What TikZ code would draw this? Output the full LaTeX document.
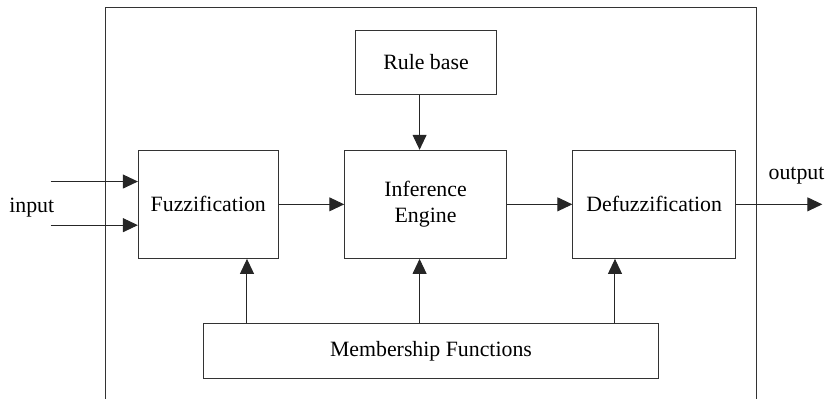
\documentclass[tikz,border=0pt]{standalone}
\usepackage{fontspec}
\setmainfont{Liberation Serif}
\usetikzlibrary{positioning}
\usetikzlibrary{calc}
\usetikzlibrary{arrows.meta}

\begin{document}
\begin{tikzpicture}[
        node distance= 27.5pt and 33pt,
        font=\fontsize{11}{12.8}\selectfont,
        box/.style={draw=black!80, line width=0.5pt, rectangle, minimum height=54.5pt, align=center, inner sep=0pt},
        arrow/.style={draw=black!85, line width=0.5pt, -{Triangle[length=7.5pt, width=7pt]}},
    ]
        \node[box, minimum width=70.5pt] (fuzz) {Fuzzification};
        \node[box, minimum width=81.5pt, right = of fuzz] (infer) {Inference\\Engine};
        \node[box, minimum width=82pt, right = of infer] (defuzz) {Defuzzification};
        \node[box, minimum width=71pt, minimum height=32.5pt, above = of infer, xshift=0.25pt] (rules) {Rule base};
        \node[box, minimum width=229pt, minimum height=27.5pt, below = 32.5pt of infer, xshift=2.75pt] (member) {Membership Functions};

        \node[left = 53.5pt of fuzz.west, anchor=center, yshift=-1.5pt] (input) {input};
        \node[above right = 14.5pt and 30.5pt of defuzz.east, anchor=center] (output) {output};

        \coordinate (in1) at ($(fuzz.north west)+(-44pt,-16pt)$);
        \coordinate (in2) at ($(fuzz.north west)+(-44pt,-38pt)$);
        \coordinate (out) at ($(defuzz.east)+(43.5pt,0)$);
        \coordinate (m1) at ($(member.north west)+(22pt,0)$);
        \coordinate (m2) at ($(member.north west)+(109pt,0)$);
        \coordinate (m3) at ($(member.north west)+(207.5pt,0)$);

        % outer frame, open at the bottom
        \coordinate (framebl) at ($(fuzz.west |- member.south)+(-16.5pt,-10pt)$);
        \coordinate (frametl) at ($(fuzz.west |- rules.north)+(-16.5pt,11pt)$);
        \coordinate (frametr) at ($(defuzz.east |- rules.north)+(10.5pt,11pt)$);
        \coordinate (framebr) at ($(defuzz.east |- member.south)+(10.5pt,-10pt)$);
        \draw[black!80, line width=0.5pt] (framebl) -- (frametl) -- (frametr) -- (framebr);

        \draw[arrow] (in1) -- (in1 -| fuzz.west);
        \draw[arrow] (in2) -- (in2 -| fuzz.west);
        \draw[arrow] (fuzz) -- (infer);
        \draw[arrow] (infer) -- (defuzz);
        \draw[arrow] (defuzz.east) -- (out);
        \draw[arrow] (rules.south -| m2) -- (m2 |- infer.north);

        \draw[arrow] (m1) -- (m1 |- fuzz.south);
        \draw[arrow] (m2) -- (m2 |- infer.south);
        \draw[arrow] (m3) -- (m3 |- defuzz.south);

        \useasboundingbox ($(fuzz.north west)+(-69.5pt,75.5pt)$) rectangle ($(fuzz.north west)+(346pt,-124.5pt)$);
    \end{tikzpicture}
\end{document}
